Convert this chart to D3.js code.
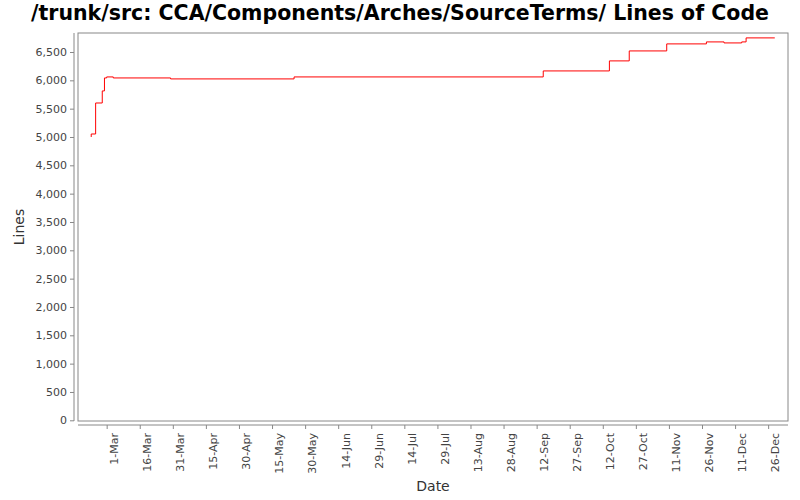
<!DOCTYPE html>
<html><head><meta charset="utf-8">
<script src="https://cdn.jsdelivr.net/npm/d3@7"></script>
<style>body{margin:0;background:#fff}</style></head>
<body><svg id="c" width="800" height="500"></svg>
<script>
const dates = ["2007-02-22","2007-02-22","2007-02-24","2007-02-27","2007-02-28","2007-03-01","2007-03-04","2007-03-30","2007-05-25","2007-09-15","2007-10-15","2007-10-24","2007-11-10","2007-11-28","2007-12-06","2007-12-14","2007-12-16","2007-12-29"];
const lines = [5000,5053,5600,5813,6042,6060,6042,6025,6060,6166,6343,6519,6643,6678,6660,6678,6749,6749];
const tickDates = ["2007-03-01","2007-03-16","2007-03-31","2007-04-15","2007-04-30","2007-05-15","2007-05-30","2007-06-14","2007-06-29","2007-07-14","2007-07-29","2007-08-13","2007-08-28","2007-09-12","2007-09-27","2007-10-12","2007-10-27","2007-11-11","2007-11-26","2007-12-11","2007-12-26"];
const yTicks = d3.range(0,7000,500);

const p = d3.timeParse("%Y-%m-%d");
const svg = d3.select("#c");
const L=78,R=788,T=33,B=421;
const x = d3.scaleTime().domain([p("2007-02-16"),p("2008-01-04")]).range([L,R]);
const y = d3.scaleLinear().domain([0,6500]).range([420.3,52]);
const font = "DejaVu Sans, sans-serif";

svg.append("text").attr("x",400).attr("y",20).attr("text-anchor","middle")
  .attr("font-family",font).attr("font-weight","bold").attr("font-size",20.5)
  .text("/trunk/src: CCA/Components/Arches/SourceTerms/ Lines of Code");

svg.append("rect").attr("x",L).attr("y",T).attr("width",R-L).attr("height",B-T)
  .attr("fill","#fff").attr("stroke","#888");

const ya = svg.append("g").attr("transform","translate(74,0)")
  .call(d3.axisLeft(y).tickValues(yTicks).tickSize(4).tickFormat(d3.format(",")));
ya.select(".domain").attr("stroke","#888").attr("d",`M0,${T}V${B}`);
ya.selectAll("line").attr("stroke","#888");
ya.selectAll("text").attr("font-family",font).attr("font-size",11).attr("fill","#444");

const xa = svg.append("g").attr("transform","translate(0,425)")
  .call(d3.axisBottom(x).tickValues(tickDates.map(p)).tickSize(4).tickFormat(d3.timeFormat("%-d-%b")));
xa.select(".domain").attr("stroke","#888").attr("d",`M${L},0H${R}`);
xa.selectAll("line").attr("stroke","#888");
xa.selectAll("text").attr("font-family",font).attr("font-size",11).attr("fill","#444")
  .attr("text-anchor","end").attr("dx",null).attr("dy","0.35em")
  .attr("transform","translate(0,8) rotate(-90)");

svg.append("text").attr("x",433).attr("y",491).attr("text-anchor","middle")
  .attr("font-family",font).attr("font-size",14).attr("fill","#333").text("Date");
svg.append("text").attr("transform","translate(24,227) rotate(-90)").attr("text-anchor","middle")
  .attr("font-family",font).attr("font-size",14).attr("fill","#333").text("Lines");

const data = dates.map((d,i)=>({d:p(d),v:lines[i]}));
svg.append("path").datum(data).attr("fill","none").attr("stroke","#f00").attr("stroke-width",1)
  .attr("d",d3.line().x(d=>x(d.d)).y(d=>y(d.v)).curve(d3.curveStepAfter));
</script></body></html>
